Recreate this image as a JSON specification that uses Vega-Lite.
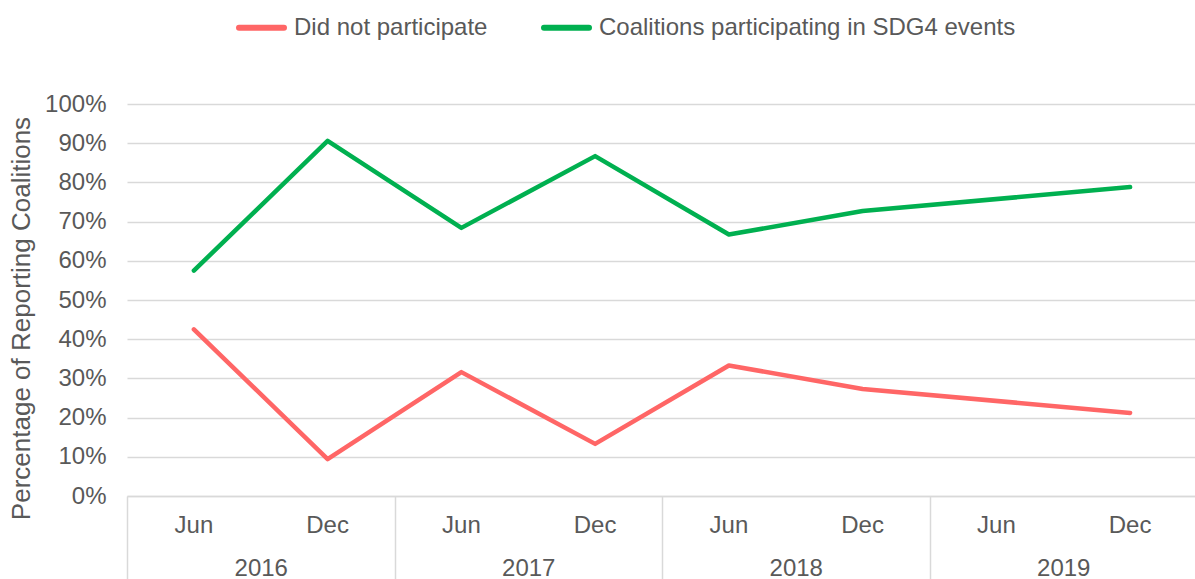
{
  "$schema": "https://vega.github.io/schema/vega-lite/v6.json",
  "width": 1070,
  "height": 392,
  "autosize": {"type": "none"},
  "padding": {"left": 127, "top": 104, "right": 0, "bottom": 83},
  "background": "white",
  "config": {
    "font": "Liberation Sans",
    "view": {"stroke": null},
    "axis": {"labelFont": "Liberation Sans", "titleFont": "Liberation Sans", "labelColor": "#595959", "titleColor": "#595959"}
  },
  "data": {
    "values": [
      {"period": "2016 Jun", "year": "2016", "series": "Did not participate", "value": 0.425},
      {"period": "2016 Dec", "year": "2016", "series": "Did not participate", "value": 0.094},
      {"period": "2017 Jun", "year": "2017", "series": "Did not participate", "value": 0.316},
      {"period": "2017 Dec", "year": "2017", "series": "Did not participate", "value": 0.133},
      {"period": "2018 Jun", "year": "2018", "series": "Did not participate", "value": 0.333},
      {"period": "2018 Dec", "year": "2018", "series": "Did not participate", "value": 0.273},
      {"period": "2019 Dec", "year": "2019", "series": "Did not participate", "value": 0.212},
      {"period": "2016 Jun", "year": "2016", "series": "Coalitions participating in SDG4 events", "value": 0.575},
      {"period": "2016 Dec", "year": "2016", "series": "Coalitions participating in SDG4 events", "value": 0.906},
      {"period": "2017 Jun", "year": "2017", "series": "Coalitions participating in SDG4 events", "value": 0.684},
      {"period": "2017 Dec", "year": "2017", "series": "Coalitions participating in SDG4 events", "value": 0.867},
      {"period": "2018 Jun", "year": "2018", "series": "Coalitions participating in SDG4 events", "value": 0.667},
      {"period": "2018 Dec", "year": "2018", "series": "Coalitions participating in SDG4 events", "value": 0.727},
      {"period": "2019 Dec", "year": "2019", "series": "Coalitions participating in SDG4 events", "value": 0.788}
    ]
  },
  "layer": [
    {
      "mark": {"type": "line", "strokeWidth": 4.5, "strokeCap": "round", "strokeJoin": "round"},
      "encoding": {
        "x": {
          "field": "period", "type": "ordinal",
          "sort": ["2016 Jun", "2016 Dec", "2017 Jun", "2017 Dec", "2018 Jun", "2018 Dec", "2019 Jun", "2019 Dec"],
          "scale": {"type": "band", "domain": ["2016 Jun", "2016 Dec", "2017 Jun", "2017 Dec", "2018 Jun", "2018 Dec", "2019 Jun", "2019 Dec"], "paddingInner": 0, "paddingOuter": 0},
          "axis": {"orient": "bottom", "title": null, "labelExpr": "split(datum.value, ' ')[1]", "labelAngle": 0, "labelFontSize": 24, "labelPadding": 17, "labelOverlap": false, "ticks": false, "domain": true, "domainColor": "#D9D9D9", "domainWidth": 1.5, "grid": false}
        },
        "y": {
          "field": "value", "type": "quantitative",
          "scale": {"domain": [0, 1]},
          "axis": {"format": ".0%", "values": [0, 0.1, 0.2, 0.3, 0.4, 0.5, 0.6, 0.7, 0.8, 0.9, 1], "title": "Percentage of Reporting Coalitions", "titleFontSize": 26, "titleFontWeight": "normal", "titlePadding": 10, "titleY": 214, "labelFontSize": 24, "labelPadding": 21, "labelOverlap": false, "labelFlush": false, "ticks": false, "domain": false, "grid": true, "gridColor": "#D9D9D9", "gridWidth": 1.5}
        },
        "color": {
          "field": "series", "type": "nominal",
          "scale": {"domain": ["Did not participate", "Coalitions participating in SDG4 events"], "range": ["#FF6666", "#00B050"]},
          "legend": {"orient": "none", "legendX": 109, "legendY": -102, "direction": "horizontal", "title": null, "symbolType": "stroke", "symbolSize": 2025, "symbolStrokeWidth": 6, "labelFontSize": 24, "labelColor": "#595959", "labelFont": "Liberation Sans", "labelOffset": 7, "columnPadding": 44, "labelLimit": 700, "padding": 0,
            "encode": {"symbols": {"update": {"strokeCap": {"value": "round"}}}}}
        }
      }
    },
    {
      "mark": {"type": "rule", "strokeOpacity": 0},
      "encoding": {
        "x": {
          "field": "year", "type": "ordinal",
          "scale": {"type": "band", "domain": ["2016", "2017", "2018", "2019"], "paddingInner": 0, "paddingOuter": 0},
          "axis": {"orient": "bottom", "title": null, "labelAngle": 0, "labelFontSize": 24, "labelOverlap": false, "tickBand": "extent", "ticks": true, "tickSize": 85, "tickColor": "#D9D9D9", "tickWidth": 1.5, "labelPadding": -25, "domain": false, "grid": false, "offset": 0}
        }
      }
    }
  ],
  "resolve": {"scale": {"x": "independent"}, "axis": {"x": "independent"}}
}
